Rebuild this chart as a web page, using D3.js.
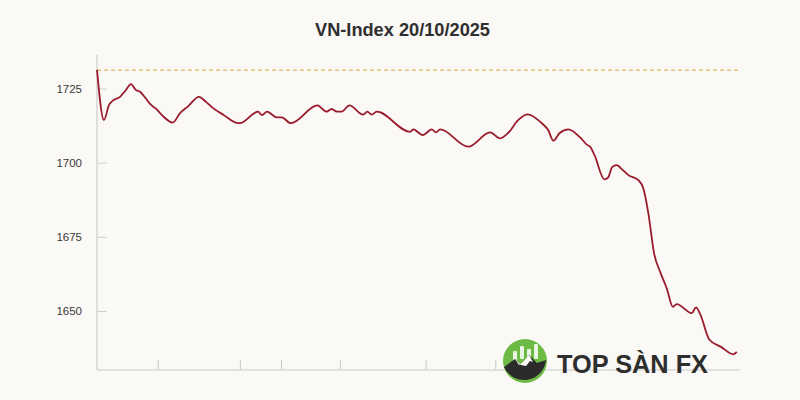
<!DOCTYPE html>
<html>
<head>
<meta charset="utf-8">
<script src="https://cdn.jsdelivr.net/npm/d3@7/dist/d3.min.js"></script>
<style>
  html, body { margin: 0; padding: 0; background: #faf9f6; }
  svg { display: block; }
</style>
</head>
<body>
<svg id="chart" width="800" height="400"></svg>
<script>
// ---- data ----
const title = "VN-Index 20/10/2025";
const referenceLevel = 1731.2; // previous close
// minutes since 09:00 (session axis 0..360)
const minutes = [0, 3.9, 6.7, 9, 12.9, 16.2, 19, 21.8, 24.1, 26.9, 29.7, 33, 36.4, 42.4, 46.5, 51, 57.1, 61, 65, 71.1, 78.2, 80,
  90.2, 92.4, 95.2, 100.6, 103.4, 108.5, 123.4, 128.6, 131.4, 134.2, 137, 141.3, 149.1, 151.3, 153.8, 156.6,
  175.3, 177.1, 182.4, 187.4, 189.8, 192.1, 207.9, 220.1, 225.7, 230.3, 235.9, 241.1, 249, 252.6, 255.5, 258.9,
  263.9, 270.5, 274.4, 276.1, 278.5, 284.1, 286.2, 288.4, 291, 293.5, 297.5, 303.1, 305.9, 308.7, 311.9, 315.3,
  319, 322.4, 324.6, 333, 335.4, 337.6, 342.9, 349.4, 356.3, 358.2];
const values = [1731.3, 1714.4, 1719.4, 1721.0, 1722.2, 1724.5, 1726.5, 1724.5, 1723.9, 1722.0, 1719.8, 1718.2, 1716.0, 1713.5, 1716.7, 1719.0, 1722.2, 1720.5, 1718.4, 1716.0, 1713.4, 1713.3,
  1717.2, 1716.0, 1717.2, 1715.3, 1715.3, 1713.3, 1719.3, 1717.2, 1718.1, 1717.2, 1717.2, 1719.3, 1716.2, 1717.2, 1716.2, 1717.2,
  1710.4, 1711.2, 1709.3, 1711.2, 1710.2, 1711.2, 1705.4, 1710.2, 1708.2, 1710.1, 1714.4, 1716.3, 1713.3, 1711.0, 1707.4, 1709.9,
  1711.2, 1708.5, 1706.0, 1705.4, 1702.6, 1694.4, 1695.0, 1698.5, 1699.2, 1698.0, 1695.8, 1694.1, 1691.3, 1682.9, 1669.4, 1663.2,
  1657.6, 1651.4, 1652.3, 1649.3, 1651.2, 1649.1, 1640.3, 1637.9, 1635.4, 1636.2];
const yTicks = [1650, 1675, 1700, 1725];
const xTickMinutes = [34, 80, 103, 136, 184, 223];
const xDomain = [0, 360];
const yDomain = [1630.1, 1736.3];
const watermark = "TOP SÀN FX";

// ---- layout ----
const svg = d3.select("#chart");
const W = 800, H = 400;
const m = { left: 97, right: 60, top: 55, bottom: 30 };
const x = d3.scaleLinear().domain(xDomain).range([m.left, W - m.right]);
const y = d3.scaleLinear().domain(yDomain).range([H - m.bottom, m.top]);

svg.append("rect").attr("width", W).attr("height", H).attr("fill", "#faf9f6");

svg.append("text")
  .attr("x", 402.5).attr("y", 36)
  .attr("text-anchor", "middle")
  .attr("font-family", "Liberation Sans, Arial, sans-serif")
  .attr("font-weight", "bold")
  .attr("font-size", 17.5)
  .attr("fill", "#2f2f2f")
  .attr("textLength", 175)
  .attr("lengthAdjust", "spacingAndGlyphs")
  .text(title);

// y axis
const yAxis = svg.append("g").attr("transform", `translate(${m.left},0)`)
  .call(d3.axisRight(y).tickValues(yTicks).tickSize(10).tickFormat(d3.format("d")));
yAxis.select(".domain").remove();
yAxis.selectAll(".tick line").attr("stroke", "#d0d0d0");
yAxis.selectAll(".tick text")
  .attr("x", -15).attr("text-anchor", "end")
  .attr("font-family", "Liberation Sans, Arial, sans-serif")
  .attr("font-size", 11.5).attr("fill", "#3a3a3a");
svg.append("line")
  .attr("x1", m.left).attr("x2", m.left)
  .attr("y1", m.top).attr("y2", H - m.bottom)
  .attr("stroke", "#d4d4d4").attr("stroke-width", 1.5);

// x axis
const xAxis = svg.append("g").attr("transform", `translate(0,${H - m.bottom})`)
  .call(d3.axisTop(x).tickValues(xTickMinutes).tickSize(10).tickFormat(""));
xAxis.select(".domain").remove();
xAxis.selectAll(".tick line").attr("stroke", "#c8c8c8");
svg.append("line")
  .attr("x1", m.left).attr("x2", W - m.right)
  .attr("y1", H - m.bottom).attr("y2", H - m.bottom)
  .attr("stroke", "#d8d8d8").attr("stroke-width", 1.5);

// reference line
svg.append("line")
  .attr("x1", x(xDomain[0])).attr("x2", x(xDomain[1]))
  .attr("y1", y(referenceLevel)).attr("y2", y(referenceLevel))
  .attr("stroke", "#d9a441").attr("stroke-width", 1)
  .attr("stroke-dasharray", "4,3");

// index line
const data = minutes.map((t, i) => ({ t, v: values[i] }));
svg.append("path")
  .datum(data)
  .attr("fill", "none")
  .attr("stroke", "#9a1b2b")
  .attr("stroke-width", 1.8)
  .attr("stroke-linejoin", "round")
  .attr("d", d3.line().x(d => x(d.t)).y(d => y(d.v)).curve(d3.curveMonotoneX));

// watermark logo
const logo = svg.append("g").attr("transform", "translate(525,361)");
logo.append("circle").attr("r", 22).attr("fill", "#6dbb45");
[-12, -5, 2, 9].forEach((bx, i) => {
  logo.append("rect").attr("x", bx).attr("y", -10 + (i % 2) * -4 - i).attr("width", 4).attr("height", 12 + i)
    .attr("fill", "#ffffff").attr("opacity", 0.85).attr("rx", 1);
});
logo.append("path")
  .attr("d", "M-21,6 L-10,-2 L-4,4 L4,-6 L12,2 L21,-1 A22,22 0 0 1 -21,6 Z")
  .attr("fill", "#2b2b2b");
logo.append("path")
  .attr("d", "M-10,-2 L-6,4 L-2,1 L4,-6 L8,1 L5,0 L1,5 L-4,4 Z")
  .attr("fill", "#ffffff");
svg.append("text")
  .attr("x", 557).attr("y", 373)
  .attr("font-family", "Liberation Sans, Arial, sans-serif")
  .attr("font-weight", "bold")
  .attr("font-size", 25)
  .attr("fill", "#2e2e2e")
  .attr("textLength", 151)
  .attr("lengthAdjust", "spacingAndGlyphs")
  .text(watermark);
</script>
</body>
</html>
